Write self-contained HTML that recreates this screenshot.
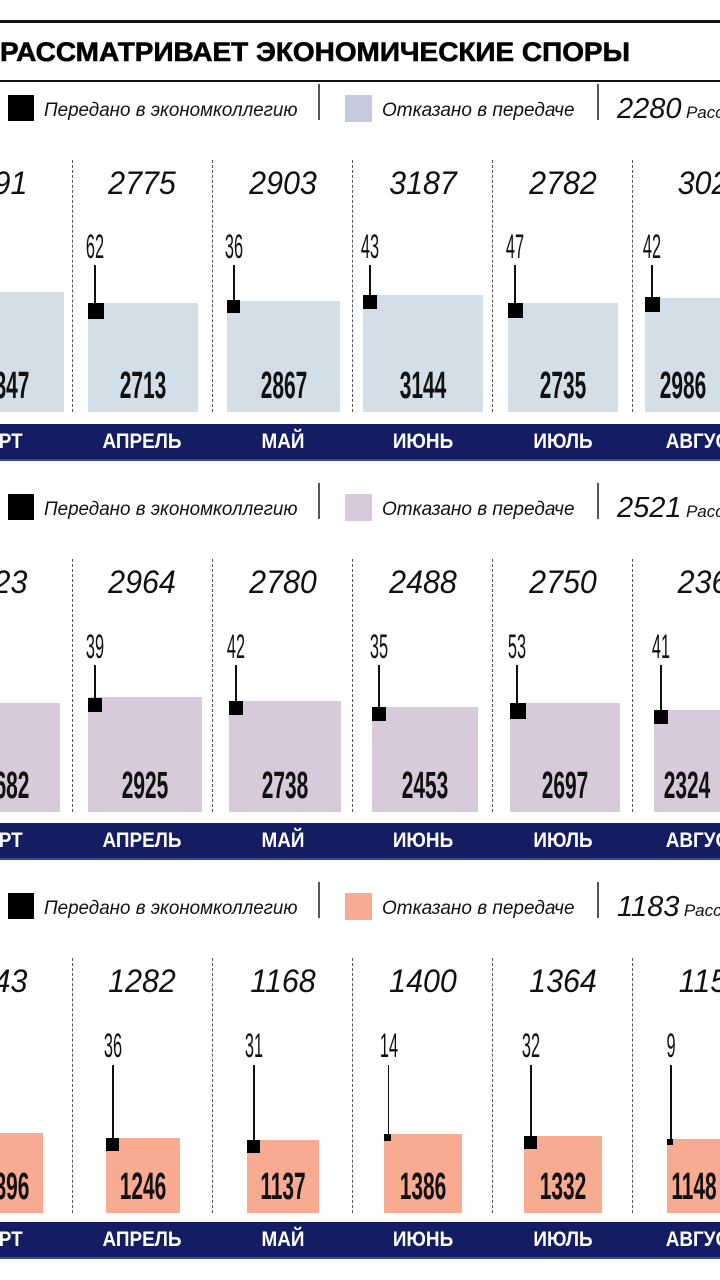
<!DOCTYPE html>
<html><head><meta charset="utf-8">
<style>
html,body{margin:0;padding:0;background:#fff;width:720px;height:1280px;overflow:hidden;position:relative;font-family:"Liberation Sans",sans-serif}
.a{position:absolute}
.t{position:absolute;white-space:nowrap;transform-origin:center center}
.cond{font-weight:bold;color:#111}
.lg{font-style:italic;font-size:19px;color:#111}
.band{position:absolute;left:0;width:720px;background:#141d62;border-bottom:2px solid #3a4a8a}
.ml{position:absolute;color:#fff;font-weight:bold;font-size:21px;top:6px;white-space:nowrap;transform:translateX(-50%) scaleX(0.9)}
.dash{position:absolute;width:0;border-left:1px dashed #555}
</style></head><body>
<div class="a" style="left:0;top:20px;width:720px;height:3px;background:#111"></div>
<div class="t" style="left:0;top:37px;font-size:27px;font-weight:bold;color:#000;transform:scaleX(1.035);transform-origin:left center;-webkit-text-stroke:0.6px #000">РАССМАТРИВАЕТ ЭКОНОМИЧЕСКИЕ СПОРЫ</div>
<div class="a" style="left:0;top:80px;width:720px;height:2px;background:#111"></div>
<div id="root"></div>
<script>
var P=[
 {y:0,leg:"#c5cade",bar:"#d3dfe8",tot:"2280",top:["891","2775","2903","3187","2782","302"],bot:["347","2713","2867","3144","2735","2986"],
  lab:["","62","36","43","47","42"],
  bars:[[0,64,292],[88,198,303],[227,340,301],[363,483,295],[508,618,303],[645,720,298]],
  sq:[null,[88,303,16],[227,300,13],[363,295,14],[508,303,15],[645,297,15]],bb:412,ly:248,ll:265},
 {y:399,leg:"#d7cadb",bar:"#d7cadb",tot:"2521",top:["723","2964","2780","2488","2750","236"],bot:["682","2925","2738","2453","2697","2324"],
  lab:["","39","42","35","53","41"],
  bars:[[0,60,703],[88,202,697],[229,341,701],[372,478,707],[510,620,703],[654,720,710]],
  sq:[null,[88,698,14],[229,701,14],[372,707,14],[510,703,16],[654,710,14]],bb:812,ly:648,ll:665},
 {y:798,leg:"#f8ab90",bar:"#f8ab90",tot:"1183",top:["443","1282","1168","1400","1364","115"],bot:["396","1246","1137","1386","1332","1148"],
  lab:["","36","31","14","32","9"],
  bars:[[0,43,1133],[106,180,1138],[247,319,1140],[384,462,1134],[524,602,1136],[667,720,1139]],
  sq:[null,[106,1138,13],[247,1140,13],[384,1134,7],[524,1136,13],[667,1139,6]],bb:1213,ly:1047,ll:1065}
];
var cx=[2,142,283,423,563,703],months=["МАРТ","АПРЕЛЬ","МАЙ","ИЮНЬ","ИЮЛЬ","АВГУСТ"];
var h="";
function d(s){h+=s;}
P.forEach(function(p,k){
 var o=p.y;
 d('<div class="a" style="left:8px;top:'+(95+o)+'px;width:26px;height:26px;background:#000"></div>');
 d('<div class="t lg" style="left:44px;top:'+(100+o)+'px;transform:scaleX(0.99);transform-origin:left center">Передано в экономколлегию</div>');
 d('<div class="a" style="left:318px;top:'+(84+o)+'px;width:2px;height:36px;background:#555"></div>');
 d('<div class="a" style="left:345px;top:'+(95+o)+'px;width:27px;height:27px;background:'+p.leg+'"></div>');
 d('<div class="t lg" style="left:382px;top:'+(100+o)+'px;transform:scaleX(1.0);transform-origin:left center">Отказано в передаче</div>');
 d('<div class="a" style="left:597px;top:'+(84+o)+'px;width:2px;height:36px;background:#555"></div>');
 d('<div class="t" style="left:617px;top:'+(93+o)+'px;font-style:italic;color:#111"><span style="font-size:29px">'+p.tot+'</span> <span style="font-size:17px">Расс</span></div>');
 [72,212,352,492,632].forEach(function(x){d('<div class="dash" style="left:'+x+'px;top:'+(160+o)+'px;height:'+(p.bb-160-o)+'px"></div>');});
 for(var i=0;i<6;i++){
  d('<div class="t" style="left:'+cx[i]+'px;top:'+(165+o)+'px;font-size:32px;font-style:italic;color:#111;transform:translateX(-50%) scaleX(0.95)">'+p.top[i]+'</div>');
  var b=p.bars[i];
  d('<div class="a" style="left:'+b[0]+'px;top:'+b[2]+'px;width:'+(b[1]-b[0])+'px;height:'+(p.bb-b[2])+'px;background:'+p.bar+'"></div>');
  var bc=(b[0]+b[1])/2; if(i==0) bc=12;
  d('<div class="t cond" style="left:'+bc+'px;top:'+(p.bb-47)+'px;font-size:38px;transform:translateX(-50%) scaleX(0.55)">'+p.bot[i]+'</div>');
  var s=p.sq[i];
  if(s){
   var lx=s[0]+Math.min(6,s[2]/2);
   d('<div class="a" style="left:'+lx+'px;top:'+p.ll+'px;width:1.5px;height:'+(s[1]-p.ll)+'px;background:#111"></div>');
   d('<div class="a" style="left:'+s[0]+'px;top:'+s[1]+'px;width:'+s[2]+'px;height:'+s[2]+'px;background:#000"></div>');
   d('<div class="t" style="left:'+(lx+1)+'px;top:'+(p.ly-20)+'px;font-size:34px;color:#111;transform:translateX(-50%) scaleX(0.48)">'+p.lab[i]+'</div>');
  }
 }
 var by=424+o;
 d('<div class="band" style="top:'+by+'px;height:35px">');
 for(var i=0;i<6;i++) d('<div class="ml" style="left:'+(i==0?-4:cx[i])+'px">'+months[i]+'</div>');
 d('</div>');
});
document.getElementById('root').innerHTML=h;
</script>
</body></html>
